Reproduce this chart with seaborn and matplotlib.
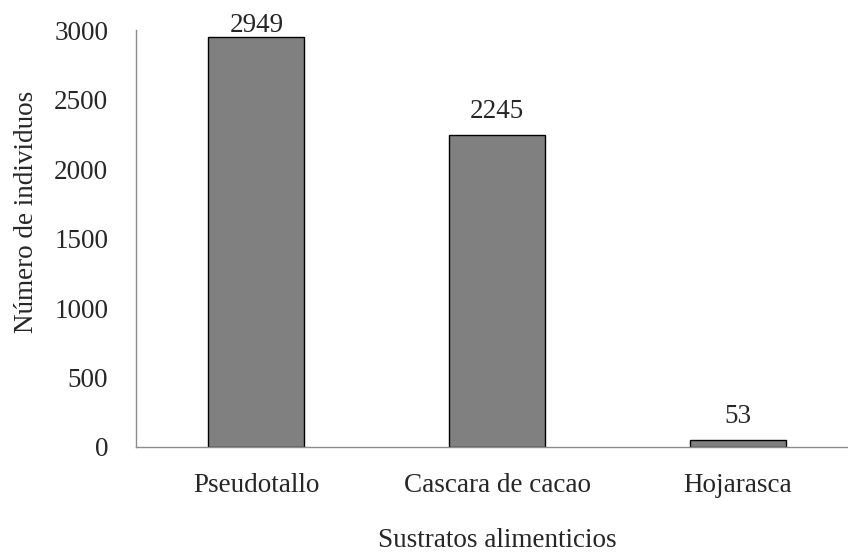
import seaborn as sns
import matplotlib.pyplot as plt
import pandas as pd

sustratos = ['Pseudotallo', 'Cascara de cacao', 'Hojarasca']
individuos = [2949, 2245, 53]

data = pd.DataFrame({'sustrato': sustratos, 'n': individuos})

sns.set_style('white')
plt.rcParams['font.family'] = ['Liberation Serif', 'DejaVu Serif']
fs = 19.5

fig = plt.figure(figsize=(8.48, 5.54), dpi=100)
ax = fig.add_axes([136 / 848, 107 / 554, 722 / 848, 417 / 554])

sns.barplot(data=data, x='sustrato', y='n', color='#808080', saturation=1,
            width=0.4, edgecolor='black', linewidth=1, ax=ax)

# etiquetas de valor (la más alta queda pegada a la barra, como en Excel)
for i, v in enumerate(individuos):
    off = 3.5 if v > 2700 else 12
    ax.annotate(str(v), (i, v), xytext=(0, off), textcoords='offset points',
                ha='center', va='baseline', fontsize=fs)

ax.set_xlim(-0.5, 2.5)
ax.set_ylim(0, 3000)
ax.set_yticks(range(0, 3001, 500))
ax.set_xticks([-0.5, 0.5, 1.5, 2.5])
ax.set_xticklabels([])
ax.set_xticks([0, 1, 2], minor=True)
ax.set_xticklabels(sustratos, minor=True)
ax.tick_params(axis='x', which='major', direction='out', length=7, width=1, color='#8c8c8c')
ax.tick_params(axis='x', which='minor', length=0, labelsize=fs, pad=19)
ax.tick_params(axis='y', direction='out', length=6, width=1, color='#8c8c8c', labelsize=fs, pad=14)

for s in ['top', 'right']:
    ax.spines[s].set_visible(False)
for s in ['left', 'bottom']:
    ax.spines[s].set_color('#8c8c8c')
    ax.spines[s].set_linewidth(1)

ax.set_xlabel('Sustratos alimenticios', fontsize=fs, va='baseline')
ax.xaxis.set_label_coords(0.5, -0.241)
ax.set_ylabel('Número de individuos', fontsize=fs, va='baseline')
ax.yaxis.set_label_coords(-0.1427, 0.564)

fig.savefig('out.png', dpi=100)
